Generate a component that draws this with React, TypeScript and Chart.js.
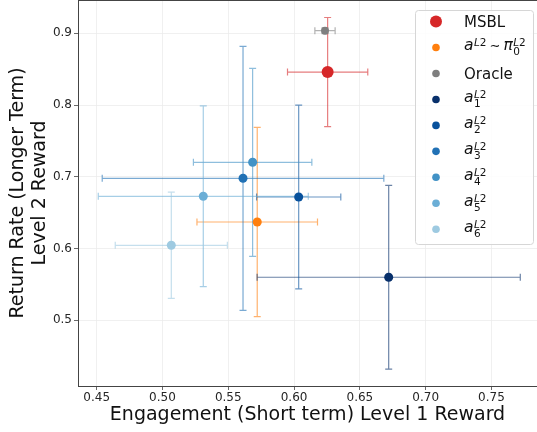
import { useEffect, useRef } from "react";
import { Chart, registerables, Plugin } from "chart.js";

Chart.register(...registerables);

const FONT = '"DejaVu Sans", sans-serif';

// series in legend order: MSBL, a ~ pi0, Oracle, a1..a6
const seriesNames = ["MSBL", "pi0", "Oracle", "a1", "a2", "a3", "a4", "a5", "a6"];
const xValues = [0.6255, 0.572, 0.6235, 0.6719, 0.6035, 0.5612, 0.5685, 0.531, 0.5067];
const yValues = [0.846, 0.637, 0.9036, 0.56, 0.6718, 0.6979, 0.7202, 0.6728, 0.6045];
const xErrors = [0.0305, 0.0458, 0.0077, 0.1, 0.032, 0.107, 0.045, 0.0798, 0.0426];
const yErrors = [0.076, 0.132, 0.004, 0.128, 0.128, 0.184, 0.131, 0.126, 0.074];
const colors = [
  "#d62728",
  "#ff7f0e",
  "#7f7f7f",
  "#08306b",
  "#08519c",
  "#2171b5",
  "#4292c6",
  "#6baed6",
  "#9ecae1",
];
const markerRadius = [6, 4.5, 4, 4.5, 4.5, 4.5, 4.5, 4.5, 4.5];

const xTicks = [0.45, 0.5, 0.55, 0.6, 0.65, 0.7, 0.75];
const yTicks = [0.5, 0.6, 0.7, 0.8, 0.9];

const withAlpha = (hex: string, a: number) => {
  const n = parseInt(hex.slice(1), 16);
  return `rgba(${(n >> 16) & 255},${(n >> 8) & 255},${n & 255},${a})`;
};

// error bars drawn under the markers
const errorBars: Plugin = {
  id: "errorBars",
  beforeDatasetsDraw(chart) {
    const { ctx } = chart;
    const xs = chart.scales.x;
    const ys = chart.scales.y;
    const cap = 3.5;
    ctx.save();
    ctx.lineWidth = 1.2;
    seriesNames.forEach((_, i) => {
      const px = xs.getPixelForValue(xValues[i]);
      const py = ys.getPixelForValue(yValues[i]);
      const x0 = xs.getPixelForValue(xValues[i] - xErrors[i]);
      const x1 = xs.getPixelForValue(xValues[i] + xErrors[i]);
      const y0 = ys.getPixelForValue(yValues[i] - yErrors[i]);
      const y1 = ys.getPixelForValue(yValues[i] + yErrors[i]);
      ctx.strokeStyle = withAlpha(colors[i], 0.6);
      ctx.beginPath();
      ctx.moveTo(x0, py);
      ctx.lineTo(x1, py);
      ctx.moveTo(x0, py - cap);
      ctx.lineTo(x0, py + cap);
      ctx.moveTo(x1, py - cap);
      ctx.lineTo(x1, py + cap);
      ctx.moveTo(px, y0);
      ctx.lineTo(px, y1);
      ctx.moveTo(px - cap, y0);
      ctx.lineTo(px + cap, y0);
      ctx.moveTo(px - cap, y1);
      ctx.lineTo(px + cap, y1);
      ctx.stroke();
    });
    ctx.restore();
  },
};

// superscript "L2" and/or subscript, returns width used
function drawScripts(
  ctx: CanvasRenderingContext2D,
  x: number,
  base: number,
  sub: string | null
) {
  ctx.font = `italic 10.5px ${FONT}`;
  ctx.fillText("L", x, base - 4.5);
  const wl = ctx.measureText("L").width;
  ctx.font = `10.5px ${FONT}`;
  ctx.fillText("2", x + wl, base - 4.5);
  let w = wl + ctx.measureText("2").width;
  if (sub) {
    ctx.fillText(sub, x, base + 5);
    w = Math.max(w, ctx.measureText(sub).width);
  }
  return w;
}

const mathLegend: Plugin = {
  id: "mathLegend",
  afterDraw(chart) {
    const { ctx, chartArea } = chart;
    ctx.save();
    // top spine
    ctx.strokeStyle = "#444";
    ctx.lineWidth = 1;
    ctx.beginPath();
    ctx.moveTo(chartArea.left, chartArea.top + 0.5);
    ctx.lineTo(chartArea.right, chartArea.top + 0.5);
    ctx.stroke();

    // legend box
    const bx = 415.5, by = 10.5, bw = 118, bh = 234, r = 3;
    ctx.beginPath();
    ctx.moveTo(bx + r, by);
    ctx.arcTo(bx + bw, by, bx + bw, by + bh, r);
    ctx.arcTo(bx + bw, by + bh, bx, by + bh, r);
    ctx.arcTo(bx, by + bh, bx, by, r);
    ctx.arcTo(bx, by, bx + bw, by, r);
    ctx.closePath();
    ctx.fillStyle = "rgba(255,255,255,0.85)";
    ctx.fill();
    ctx.strokeStyle = "#d6d6d6";
    ctx.stroke();

    const tx = 464;
    ctx.textBaseline = "alphabetic";
    ctx.textAlign = "left";
    seriesNames.forEach((name, i) => {
      const c = 21.6 + i * 25.95;
      ctx.fillStyle = colors[i];
      ctx.beginPath();
      ctx.arc(436, c, i === 0 ? 6 : 3.8, 0, Math.PI * 2);
      ctx.fill();
      ctx.fillStyle = "#111";
      if (name === "MSBL" || name === "Oracle") {
        ctx.font = `15px ${FONT}`;
        ctx.fillText(name, tx, c + 5.2);
        return;
      }
      const base = c + 2.8;
      ctx.font = `italic 15.5px ${FONT}`;
      ctx.fillText("a", tx, base);
      let x = tx + ctx.measureText("a").width + 0.5;
      if (name === "pi0") {
        x += drawScripts(ctx, x, base, null) + 3;
        ctx.font = `13px ${FONT}`;
        ctx.fillText("\u223C", x, base);
        x += ctx.measureText("\u223C").width + 3;
        ctx.font = `italic 15.5px ${FONT}`;
        ctx.fillText("\u03C0", x, base);
        x += ctx.measureText("\u03C0").width + 0.5;
        drawScripts(ctx, x, base, "0");
      } else {
        drawScripts(ctx, x, base, name.slice(1));
      }
    });
    ctx.restore();
  },
};

export default function App() {
  const canvasRef = useRef<HTMLCanvasElement>(null);
  const chartRef = useRef<Chart | null>(null);

  useEffect(() => {
    document.body.style.margin = "0";
    if (!canvasRef.current) return;
    if (chartRef.current) chartRef.current.destroy();

    chartRef.current = new Chart(canvasRef.current, {
      type: "scatter",
      data: {
        datasets: seriesNames.map((name, i) => ({
          label: name,
          data: [{ x: xValues[i], y: yValues[i] }],
          backgroundColor: colors[i],
          pointRadius: markerRadius[i],
          pointBorderWidth: 0,
        })),
      },
      options: {
        responsive: true,
        maintainAspectRatio: false,
        animation: false,
        layout: { padding: 0, autoPadding: false },
        plugins: {
          legend: { display: false },
          tooltip: { enabled: false },
        },
        scales: {
          x: {
            type: "linear",
            min: 0.4358,
            max: 0.7846,
            afterBuildTicks: (s) => {
              s.ticks = xTicks.map((v) => ({ value: v }));
            },
            afterFit: (s) => {
              s.height = 46;
            },
            ticks: {
              color: "#262626",
              font: { family: FONT, size: 12 },
              padding: 1,
              callback: (v) => Number(v).toFixed(2),
            },
            grid: { color: "#ececec", lineWidth: 0.8, tickLength: 4, tickColor: "#444" },
            border: { display: true, color: "#444", width: 1 },
            title: {
              display: true,
              text: "Engagement (Short term) Level 1 Reward",
              color: "#111",
              font: { family: FONT, size: 19, lineHeight: 1.15 },
              padding: { top: 0, bottom: 6 },
            },
          },
          y: {
            type: "linear",
            min: 0.4084,
            max: 0.9464,
            afterBuildTicks: (s) => {
              s.ticks = yTicks.map((v) => ({ value: v }));
            },
            afterFit: (s) => {
              s.width = 78;
              s.paddingTop = 0;
              s.paddingBottom = 0;
            },
            ticks: {
              color: "#262626",
              font: { family: FONT, size: 12 },
              padding: 2,
              callback: (v) => Number(v).toFixed(1),
            },
            grid: { color: "#ececec", lineWidth: 0.8, tickLength: 4, tickColor: "#444" },
            border: { display: true, color: "#444", width: 1 },
            title: {
              display: true,
              text: ["Return Rate (Longer Term)", "Level 2 Reward"],
              color: "#111",
              font: { family: FONT, size: 19, lineHeight: 1.15 },
              padding: { top: 7, bottom: 0 },
            },
          },
        },
      },
      plugins: [errorBars, mathLegend],
    });

    return () => {
      if (chartRef.current) {
        chartRef.current.destroy();
        chartRef.current = null;
      }
    };
  }, []);

  return (
    <div style={{ width: 537, height: 432, position: "relative" }}>
      <canvas ref={canvasRef}></canvas>
    </div>
  );
}
